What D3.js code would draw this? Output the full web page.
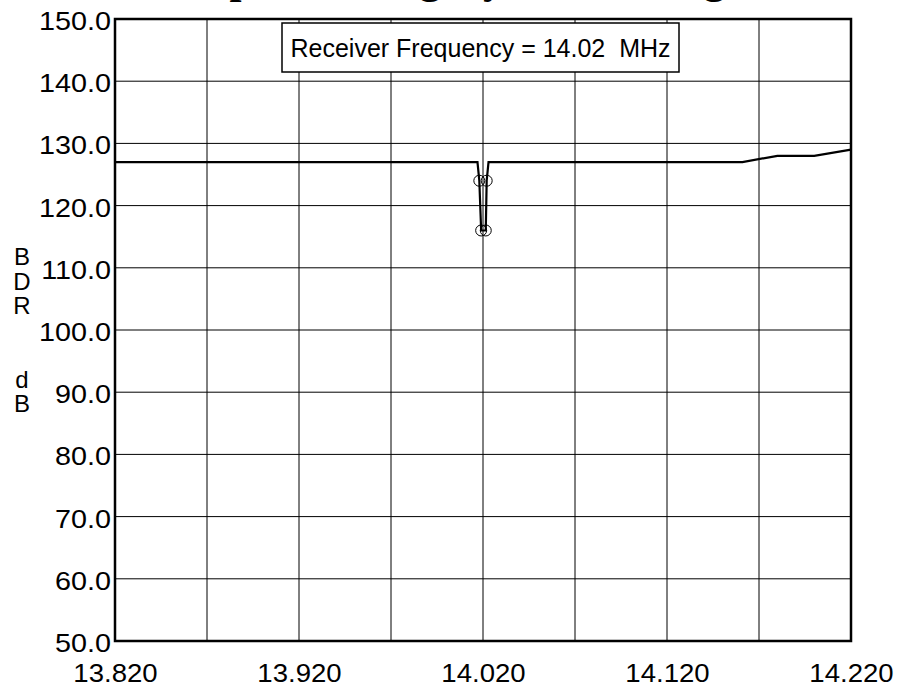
<!DOCTYPE html>
<html>
<head>
<meta charset="utf-8">
<script src="https://cdn.jsdelivr.net/npm/d3@7"></script>
<style>
  html, body { margin: 0; padding: 0; background: #fff; }
  svg { display: block; }
</style>
</head>
<body>
<svg id="chart" width="897" height="687"></svg>
<script>
// ---- data ----
const freqMHz = [13.820, 14.017, 14.018, 14.019, 14.0215, 14.022, 14.023, 14.161, 14.180, 14.200, 14.220];
const bdrDb   = [127,    127,    124,    116,    116,     124,    127,    127,    128,    128,    129];
const markerFreq = [14.018, 14.019, 14.0215, 14.022];
const markerBdr  = [124,    116,    116,     124];
const xTicks = [13.820, 13.920, 14.020, 14.120, 14.220];
const xGrid = [13.870, 13.920, 13.970, 14.020, 14.070, 14.120, 14.170];
const yTicks = [50, 60, 70, 80, 90, 100, 110, 120, 130, 140, 150];
const titleText = "Swept Blocking Dynamic Range";
const legendText = "Receiver Frequency = 14.02  MHz";
const yLabelChars = ["B", "D", "R", "", "", "d", "B"];

// ---- layout ----
const svg = d3.select("#chart");
const L = 115, R = 851, T = 19, B = 641;
const x = d3.scaleLinear().domain([13.82, 14.22]).range([L, R]);
const y = d3.scaleLinear().domain([50, 150]).range([B, T]);
const font = "'Liberation Sans', Arial, sans-serif";

function stretch(sel, k) {
  sel.each(function () {
    const len = this.getComputedTextLength();
    if (len > 0) {
      d3.select(this).attr("textLength", len * k).attr("lengthAdjust", "spacingAndGlyphs");
    }
  });
}

// title (clipped at top in reference)
svg.append("text")
  .attr("x", 450).attr("y", -7)
  .attr("text-anchor", "middle")
  .attr("font-family", "'Liberation Serif', 'Times New Roman', serif")
  .attr("font-weight", "bold")
  .attr("font-size", 43)
  .text(titleText);

// gridlines
const g = svg.append("g");
g.selectAll("line.vg").data(xGrid).join("line")
  .attr("x1", d => x(d)).attr("x2", d => x(d))
  .attr("y1", T).attr("y2", B)
  .attr("stroke", "#000").attr("stroke-width", 1);
g.selectAll("line.hg").data(yTicks.slice(1, -1)).join("line")
  .attr("x1", L).attr("x2", R)
  .attr("y1", d => y(d)).attr("y2", d => y(d))
  .attr("stroke", "#000").attr("stroke-width", 1);

// axes tick labels
const yAxis = d3.axisLeft(y).tickValues(yTicks).tickSize(0).tickPadding(4).tickFormat(d3.format(".1f"));
const ya = svg.append("g").attr("transform", `translate(${L},0)`).call(yAxis);
ya.select(".domain").remove();
ya.selectAll("text").attr("font-family", font).attr("font-size", 25).attr("fill", "#000").attr("dy", "0.42em")
  .call(stretch, 1.15);

const xAxis = d3.axisBottom(x).tickValues(xTicks).tickSize(0).tickPadding(0).tickFormat(d3.format(".3f"));
const xa = svg.append("g").attr("transform", `translate(0,${B})`).call(xAxis);
xa.select(".domain").remove();
xa.selectAll("text").attr("font-family", font).attr("font-size", 26).attr("fill", "#000")
  .attr("y", 40.5).attr("dy", 0)
  .call(stretch, 1.06);

// data line
const line = d3.line().x(d => x(d[0])).y(d => y(d[1]));
svg.append("path")
  .datum(d3.zip(freqMHz, bdrDb))
  .attr("d", line)
  .attr("fill", "none").attr("stroke", "#000").attr("stroke-width", 2.2)
  .attr("stroke-linejoin", "miter");

// markers
svg.selectAll("circle.m").data(d3.zip(markerFreq, markerBdr)).join("circle")
  .attr("cx", d => x(d[0])).attr("cy", d => y(d[1])).attr("r", 5.5)
  .attr("fill", "none").attr("stroke", "#000").attr("stroke-width", 1);

// legend box
svg.append("rect")
  .attr("x", 282).attr("y", 23).attr("width", 397).attr("height", 49)
  .attr("fill", "#fff").attr("stroke", "#000").attr("stroke-width", 1.5);
svg.append("text")
  .attr("x", 480.5).attr("y", 57)
  .attr("text-anchor", "middle")
  .attr("font-family", font).attr("font-size", 25)
  .style("white-space", "pre")
  .text(legendText);

// frame
svg.append("rect")
  .attr("x", L).attr("y", T).attr("width", R - L).attr("height", B - T)
  .attr("fill", "none").attr("stroke", "#000").attr("stroke-width", 2.5);

// y label stacked (one text, one tspan per character)
const yl = svg.append("text")
  .attr("font-family", font).attr("font-size", 24).attr("text-anchor", "middle");
yl.selectAll("tspan").data(yLabelChars).join("tspan")
  .attr("x", 22).attr("y", (d, i) => 265 + i * 24.5)
  .text(d => d);
</script>
</body>
</html>
